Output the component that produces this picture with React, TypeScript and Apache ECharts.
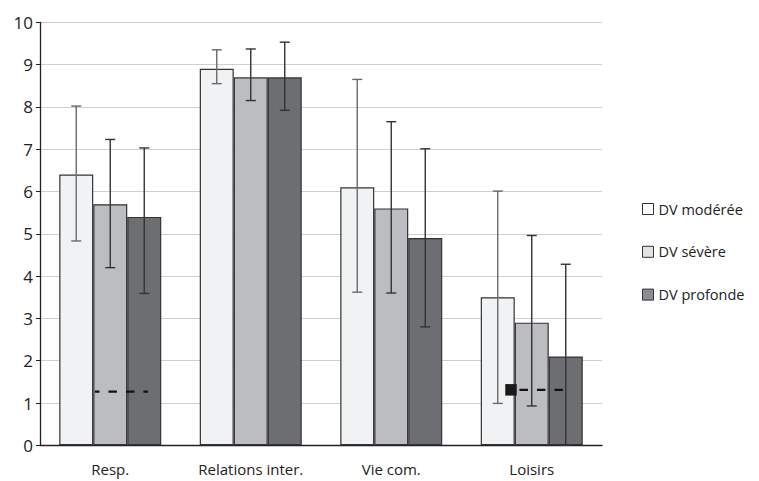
import React, { useEffect, useRef } from "react";
import * as echarts from "echarts";

const categories = ["Resp.", "Relations inter.", "Vie com.", "Loisirs"];
const seriesNames = ["DV modérée", "DV sévère", "DV profonde"];

const moderee = [6.4, 8.9, 6.1, 3.5];
const severe = [5.7, 8.7, 5.6, 2.9];
const profonde = [5.4, 8.7, 4.9, 2.1];

const modereeLow = [4.83, 8.55, 3.62, 0.99];
const modereeHigh = [8.02, 9.35, 8.65, 6.01];
const severeLow = [4.2, 8.15, 3.6, 0.93];
const severeHigh = [7.23, 9.37, 7.65, 4.96];
const profondeLow = [3.59, 7.92, 2.8, 0];
const profondeHigh = [7.03, 9.53, 7.01, 4.28];

// dashed reference marks: category index, value, with square marker
const refCats = [0, 3];
const refValues = [1.27, 1.31];
const refMarker = [false, true];

const yTicks = [0, 1, 2, 3, 4, 5, 6, 7, 8, 9, 10];

const FONT = "'Open Sans', sans-serif";
const GAP = 0.274;
const barColors = ["#f1f2f4", "#bcbdc1", "#6d6e72"];
const legendColors = ["#ffffff", "#e2e3e5", "#8c8d90"];
const errColors = ["#6a6a6a", "#333333", "#333333"];

export default function App() {
  const ref = useRef<HTMLDivElement>(null);
  useEffect(() => {
    if (!ref.current) return;
    const chart = echarts.init(ref.current, null, { renderer: "svg" });
    const values = [moderee, severe, profonde];
    const lows = [modereeLow, severeLow, profondeLow];
    const highs = [modereeHigh, severeHigh, profondeHigh];

    const errData: number[][] = [];
    for (let s = 0; s < 3; s++) {
      for (let c = 0; c < categories.length; c++) {
        errData.push([c, lows[s][c], highs[s][c], s]);
      }
    }
    const refData = refCats.map((c, i) => [c, refValues[i], refMarker[i] ? 1 : 0]);

    const barSeries = values.map((v, i) => ({
      name: seriesNames[i],
      type: "bar",
      data: v,
      barGap: "0%",
      barCategoryGap: GAP * 100 + "%",
      itemStyle: { color: barColors[i], borderColor: "#333", borderWidth: 1.2 },
      z: 2,
    }));

    chart.setOption({
      animation: false,
      backgroundColor: "#ffffff",
      textStyle: { fontFamily: FONT },
      grid: { left: 40, right: 157, top: 22.3, bottom: 35.7, containLabel: false },
      legend: {
        orient: "vertical",
        left: 637,
        top: 196.5,
        itemWidth: 11,
        itemHeight: 11,
        itemGap: 27.8,
        icon: "rect",
        textStyle: { fontFamily: FONT, fontSize: 14.5, color: "#222", lineHeight: 15 },
        data: seriesNames.map((n, i) => ({
          name: n,
          itemStyle: { color: legendColors[i], borderColor: "#333", borderWidth: 1 },
        })),
      },
      xAxis: {
        type: "category",
        data: categories,
        axisLine: { lineStyle: { color: "#222", width: 1.3 } },
        axisTick: { inside: true, length: 8, lineStyle: { color: "#222" } },
        axisLabel: { fontFamily: FONT, fontSize: 15, color: "#222", margin: 16 },
      },
      yAxis: {
        type: "value",
        min: 0,
        max: 10,
        interval: 1,
        axisLine: { show: true, lineStyle: { color: "#222", width: 1.3 } },
        axisTick: { show: true, length: 4, lineStyle: { color: "#222" } },
        axisLabel: {
          fontFamily: FONT,
          fontSize: 17,
          color: "#222",
          margin: 7,
          formatter: (v: number) => (yTicks.includes(v) ? String(v) : ""),
        },
        splitLine: { lineStyle: { color: "#cfcfcf", width: 1.2 } },
      },
      series: [
        ...barSeries,
        {
          type: "custom",
          name: "err",
          data: errData,
          encode: { x: 0, y: [1, 2] },
          z: 5,
          silent: true,
          renderItem: (params: any, api: any) => {
            const c = api.value(0);
            const lo = api.value(1);
            const hi = api.value(2);
            const s = api.value(3);
            const center = api.coord([c, 0])[0];
            const band = api.size([1, 0])[0];
            const bw = (band * (1 - GAP)) / 3;
            const x = center + (s - 1) * bw;
            const yLo = api.coord([c, lo])[1];
            const yHi = api.coord([c, hi])[1];
            const style = { stroke: errColors[s], lineWidth: 1.4 };
            return {
              type: "group",
              children: [
                { type: "line", shape: { x1: x, y1: yLo, x2: x, y2: yHi }, style },
                { type: "line", shape: { x1: x - 5, y1: yLo, x2: x + 5, y2: yLo }, style },
                { type: "line", shape: { x1: x - 5, y1: yHi, x2: x + 5, y2: yHi }, style },
              ],
            };
          },
        },
        {
          type: "custom",
          name: "ref",
          data: refData,
          encode: { x: 0, y: 1 },
          z: 6,
          silent: true,
          renderItem: (params: any, api: any) => {
            const c = api.value(0);
            const v = api.value(1);
            const m = api.value(2);
            const center = api.coord([c, 0])[0];
            const band = api.size([1, 0])[0];
            const bw = (band * (1 - GAP)) / 3;
            const left = center - bw / 2;
            const y = api.coord([c, v])[1];
            const children: any[] = [
              {
                type: "line",
                shape: { x1: left + 1.7, y1: y, x2: left + 54.7, y2: y },
                style: {
                  stroke: "#111",
                  lineWidth: 2.2,
                  lineDash: [8.5, 9],
                  lineDashOffset: m ? -3 : 3.5,
                },
              },
            ];
            if (m) {
              children.push({
                type: "rect",
                shape: { x: left - 9.5, y: y - 5.8, width: 11.5, height: 11.5 },
                style: { fill: "#1a1a1a" },
              });
            }
            return { type: "group", children };
          },
        },
      ],
    });
    return () => chart.dispose();
  }, []);
  return (
    <div
      ref={ref}
      style={{ position: "fixed", left: 0, top: 0, width: 759, height: 481, background: "#fff" }}
    />
  );
}
